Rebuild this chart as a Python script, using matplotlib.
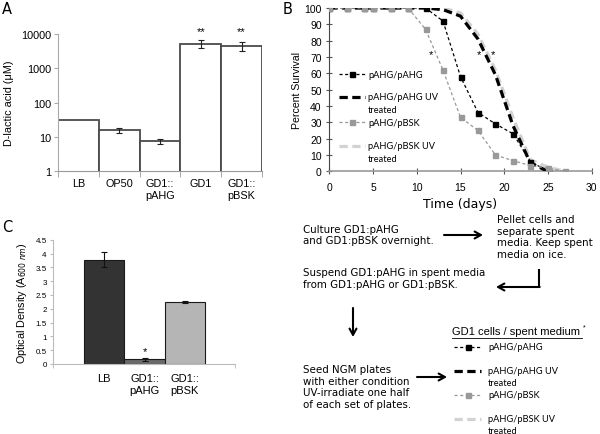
import matplotlib
matplotlib.use('Agg')
import matplotlib.pyplot as plt
from matplotlib.lines import Line2D
from matplotlib.ticker import FixedLocator, FuncFormatter, NullLocator

plt.rcParams['font.family'] = ['Liberation Sans', 'DejaVu Sans']

# ---------------- data ----------------
# Panel A: D-lactic acid (uM), log scale
a_categories = ['LB', 'OP50', 'GD1::\npAHG', 'GD1', 'GD1::\npBSK']
a_values = [30, 15.5, 7.5, 5200, 4500]
a_errors = [0, 2.2, 1.2, 1300, 1400]
a_stars = ['', '', '', '**', '**']

# Panel B: percent survival over time (days)
b_days_pahg = [0, 2, 4, 5, 7, 9, 11, 13, 15, 17, 19, 21, 23, 25]
b_pahg = [100, 100, 100, 100, 100, 100, 100, 92, 58, 36, 29, 23, 6, 0]
b_days_pahg_uv = [0, 2, 4, 5, 7, 9, 11, 13, 15, 17, 19, 21, 23, 25]
b_pahg_uv = [100, 100, 100, 100, 100, 100, 100, 99, 95, 81, 59, 28, 5, 0]
b_days_pbsk = [0, 2, 4, 5, 7, 9, 11, 13, 15, 17, 19, 21, 23, 25, 27]
b_pbsk = [100, 100, 100, 100, 100, 100, 87, 62, 33, 25, 10, 6.5, 3.5, 2, 0]
b_days_pbsk_uv = [0, 2, 4, 5, 7, 9, 11, 13, 15, 17, 19, 21, 23, 25, 27]
b_pbsk_uv = [100, 100, 100, 100, 100, 100, 100, 100, 97, 84, 62, 33, 7, 2.5, 0]
b_star_days = [11.6, 17.1, 18.7]
b_star_y = [72, 72, 72]

# Panel C: optical density
c_categories = ['LB', 'GD1::\npAHG', 'GD1::\npBSK']
c_values = [3.78, 0.17, 2.25]
c_errors = [0.27, 0.06, 0.04]
c_colors = ['#333333', '#6a6a6a', '#b5b5b5']
c_stars = ['', '*', '']

W, H = 600, 435
fig = plt.figure(figsize=(6, 4.35), dpi=100)


def rect(l, t, r, b):
    return [l / W, 1 - b / H, (r - l) / W, (b - t) / H]


# ---------------- Panel A ----------------
axA = fig.add_axes(rect(58, 35, 262, 172))
xs = list(range(len(a_categories)))
axA.bar(xs, a_values, width=1.0, color='white', edgecolor='#4a4a4a', linewidth=1.3, zorder=2)
for x, v, e in zip(xs, a_values, a_errors):
    if e > 0:
        axA.errorbar(x, v, yerr=e, fmt='none', ecolor='#222222', elinewidth=0.8, capsize=2.2, capthick=0.8, zorder=3)
for x, v, e, s in zip(xs, a_values, a_errors, a_stars):
    if s:
        axA.text(x, 12500, s, ha='center', va='center', fontsize=8)
axA.set_yscale('log')
axA.set_ylim(1, 10000)
axA.set_xlim(-0.5, len(a_categories) - 0.5)
axA.yaxis.set_major_locator(FixedLocator([1, 10, 100, 1000, 10000]))
axA.yaxis.set_minor_locator(NullLocator())
axA.yaxis.set_major_formatter(FuncFormatter(lambda v, p: f'{int(round(v))}'))
axA.set_xticks(xs)
axA.set_xticklabels(a_categories, fontsize=7.8, linespacing=1.3)
axA.set_xticks([x - 0.5 for x in xs] + [len(xs) - 0.5], minor=True)
axA.tick_params(axis='x', which='major', length=0, pad=5)
axA.tick_params(axis='x', which='minor', length=4, color='#999999', direction='out')
axA.tick_params(axis='y', which='major', length=3, color='#aaaaaa', labelsize=7.8, pad=2)
for sp in ['top', 'right']:
    axA.spines[sp].set_visible(False)
axA.spines['left'].set_color('#aaaaaa')
axA.spines['bottom'].set_color('#999999')
axA.set_ylabel('D-lactic acid (μM)', fontsize=7.8, labelpad=5)

# ---------------- Panel B ----------------
axB = fig.add_axes(rect(329.3, 9, 591.7, 172.3))
axB.plot(b_days_pbsk_uv, b_pbsk_uv, color='#d2d2d2', lw=2.3, dashes=(2.6, 1.4), zorder=2)
axB.plot(b_days_pahg_uv, b_pahg_uv, color='#000000', lw=2.3, dashes=(2.6, 1.4), zorder=3)
axB.plot(b_days_pahg, b_pahg, color='#000000', lw=0.9, dashes=(2.5, 2), marker='s', ms=3.6, zorder=4)
axB.plot(b_days_pbsk, b_pbsk, color='#999999', lw=0.9, dashes=(2.5, 2), marker='s', ms=3.6, zorder=5)
for d, y in zip(b_star_days, b_star_y):
    axB.text(d, y, '*', ha='center', va='center', fontsize=8)
axB.set_xlim(0, 30)
axB.set_ylim(0, 100)
axB.set_xticks([0, 5, 10, 15, 20, 25, 30])
axB.set_yticks(range(0, 101, 10))
axB.tick_params(axis='both', direction='inout', length=4, labelsize=7.5, color='#555555')
axB.tick_params(axis='x', pad=6)
for sp in ['top', 'right']:
    axB.spines[sp].set_visible(False)
axB.spines['left'].set_color('#444444')
axB.spines['bottom'].set_color('#999999')
axB.spines['bottom'].set_linewidth(1.2)
axB.set_xlabel('Time (days)', fontsize=9, labelpad=3, family=['DejaVu Sans'])
axB.set_ylabel('Percent Survival', fontsize=7.6, labelpad=2)

# ---------------- Panel C ----------------
axC = fig.add_axes(rect(53, 240.7, 235, 365))
cx = list(range(len(c_categories)))
axC.bar(cx, c_values, width=1.0, color=c_colors, edgecolor='#1a1a1a', linewidth=0.8, zorder=2)
axC.errorbar(cx, c_values, yerr=c_errors, fmt='none', ecolor='#111111', elinewidth=0.8, capsize=2.2, capthick=0.8, zorder=3)
for x, v, e, s in zip(cx, c_values, c_errors, c_stars):
    if s:
        axC.text(x, v + e + 0.25, s, ha='center', va='center', fontsize=8)
axC.set_xlim(-1.27, 3.24)
axC.set_ylim(0, 4.5)
axC.set_yticks([i * 0.5 for i in range(10)])
axC.yaxis.set_major_formatter(FuncFormatter(lambda v, p: f'{v:g}'))
axC.set_xticks(cx)
axC.set_xticklabels(c_categories, fontsize=8, linespacing=1.3)
axC.set_xticks([-1.27, 3.24], minor=True)
axC.tick_params(axis='x', which='major', length=0, pad=6.5)
axC.tick_params(axis='x', which='minor', length=3, color='#bbbbbb')
axC.tick_params(axis='y', length=2.5, color='#bbbbbb', labelsize=5.8, pad=2)
for sp in ['top', 'right']:
    axC.spines[sp].set_visible(False)
axC.spines['left'].set_color('#bbbbbb')
axC.spines['bottom'].set_color('#bbbbbb')
axC.set_ylabel('Optical Density (A$_{600\\ nm}$)', fontsize=7.8, labelpad=5)

# ---------------- overlay (labels, legend, flowchart) ----------------
ov = fig.add_axes([0, 0, 1, 1], zorder=10)
ov.set_xlim(0, W)
ov.set_ylim(H, 0)
ov.axis('off')
ov.patch.set_alpha(0)

for lab, x, y in [('A', 7, 10), ('B', 288, 9), ('C', 7, 228)]:
    ov.text(x, y, lab, fontsize=10.5, ha='center', va='center', family=['DejaVu Sans'])

leg_font = ['Lato', 'DejaVu Sans']


def legend_entry(x0, x1, y, kind, label_lines, tx, dy, fs):
    if kind == 'pahg':
        ov.add_line(Line2D([x0, (x0 + x1) / 2, x1], [y, y, y], color='black', lw=0.9, dashes=(2.5, 2),
                           marker='s', ms=3.6, markevery=[1]))
    elif kind == 'pahg_uv':
        ov.add_line(Line2D([x0, x1], [y, y], color='black', lw=2.3, dashes=(2.6, 1.4)))
    elif kind == 'pbsk':
        ov.add_line(Line2D([x0, (x0 + x1) / 2, x1], [y, y, y], color='#999999', lw=0.9, dashes=(2.5, 2),
                           marker='s', ms=3.6, markevery=[1]))
    else:
        ov.add_line(Line2D([x0, x1], [y, y], color='#d2d2d2', lw=2.3, dashes=(2.6, 1.4)))
    for i, t in enumerate(label_lines):
        ov.text(tx, y + i * dy, t, fontsize=fs, ha='left', va='center', family=leg_font)


entries = [('pahg', ['pAHG/pAHG']), ('pahg_uv', ['pAHG/pAHG UV', 'treated']),
           ('pbsk', ['pAHG/pBSK']), ('pbsk_uv', ['pAHG/pBSK UV', 'treated'])]
# legend inside panel B
for (kind, lines), y in zip(entries, [75, 98, 123, 147]):
    legend_entry(339, 365, y, kind, lines, 368, 12.5, 6.7)

# flowchart text, one line at a time
flow_font = ['DejaVu Sans']
fs = 7.4
blocks = [
    (303, [230, 241.5], ['Culture GD1:pAHG', 'and GD1:pBSK overnight.']),
    (497, [220, 231.7, 243.3, 254.8], ['Pellet cells and', 'separate spent', 'media. Keep spent', 'media on ice.']),
    (303, [273.5, 285], ['Suspend GD1:pAHG in spent media', 'from GD1:pAHG or GD1:pBSK.']),
    (303, [370, 381.7, 393.3, 405], ['Seed NGM plates', 'with either condition', 'UV-irradiate one half',
                                     'of each set of plates.']),
]
for x, ys, lines in blocks:
    for y, t in zip(ys, lines):
        ov.text(x, y, t, fontsize=fs, ha='left', va='center', family=flow_font)

arrow = dict(arrowstyle='->,head_length=0.45,head_width=0.25', color='black', lw=1.5, shrinkA=0, shrinkB=0)
ov.annotate('', xy=(483, 236), xytext=(444, 236), arrowprops=arrow)
ov.add_line(Line2D([539, 539], [270, 288], color='black', lw=1.5, solid_capstyle='butt'))
ov.annotate('', xy=(496, 288), xytext=(539.7, 288), arrowprops=arrow)
ov.annotate('', xy=(353, 338), xytext=(353, 309), arrowprops=arrow)
ov.annotate('', xy=(447, 378), xytext=(417, 378), arrowprops=arrow)

# flowchart legend
ov.text(452, 332, 'GD1 cells / spent medium', fontsize=8, ha='left', va='center')
ov.text(582.5, 328, '*', fontsize=5, ha='left', va='center')
ov.add_line(Line2D([452, 582], [338.5, 338.5], color='black', lw=0.6))
for (kind, lines), y in zip(entries, [348, 372, 396, 420]):
    legend_entry(454, 481, y, kind, lines, 488, 11.5, 6.7)

fig.savefig('out.png', dpi=100)
